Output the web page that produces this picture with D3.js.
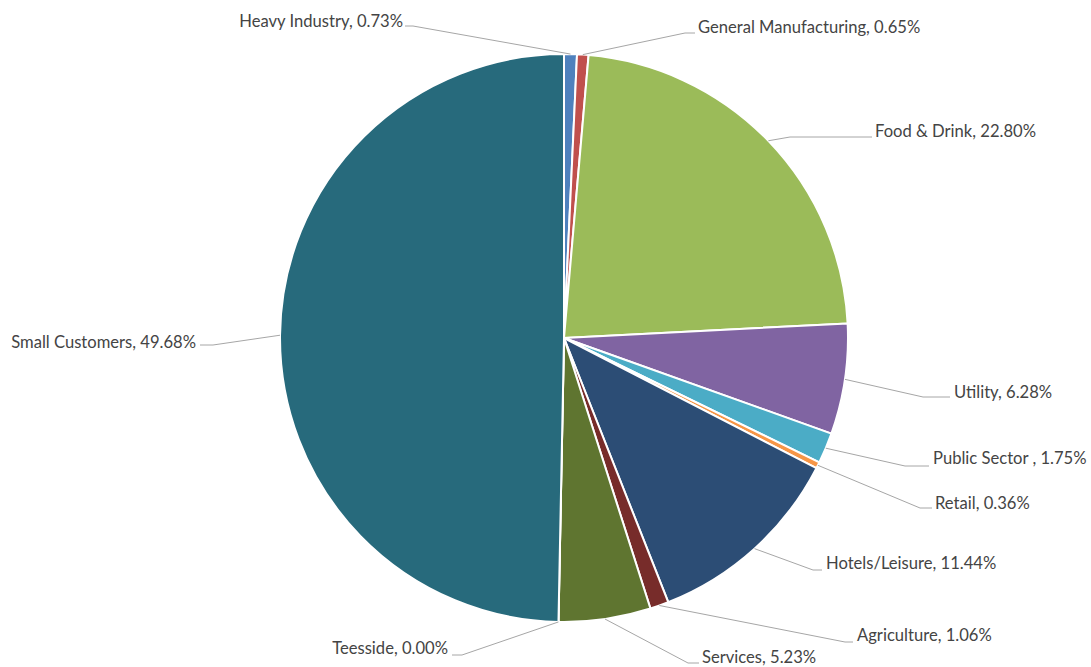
<!DOCTYPE html>
<html>
<head>
<meta charset="utf-8">
<script src="https://cdn.jsdelivr.net/npm/d3@7"></script>
<style>
  html, body { margin: 0; padding: 0; background: #ffffff; }
  svg { display: block; }
  .lbl { font-family: Lato, "Open Sans", sans-serif; font-size: 16.6px; fill: #444444; }
</style>
</head>
<body>
<svg id="chart" width="1091" height="667"></svg>
<script>
// Sector shares of consumption (%), clockwise from 12 o'clock
const categories = [
  "Heavy Industry", "General Manufacturing", "Food & Drink", "Utility",
  "Public Sector ", "Retail", "Hotels/Leisure", "Agriculture",
  "Services", "Teesside", "Small Customers"
];
const shares = [0.73, 0.65, 22.80, 6.28, 1.75, 0.36, 11.44, 1.06, 5.23, 0.00, 49.68];
const colors = [
  "#4F81BD", "#C0504D", "#9BBB59", "#8064A2", "#4BACC6", "#F79646",
  "#2C4D75", "#772C2A", "#5F7530", "#4D3B62", "#276A7C"
];

// Label placement: text anchor point, leader elbow and leader end
const labelLayout = [
  { tx: 403, ty: 21,  anchor: "end",   ex: 413, ey: 26,  lx: 405 },
  { tx: 698, ty: 27,  anchor: "start", ex: 685, ey: 33,  lx: 695 },
  { tx: 875, ty: 131, anchor: "start", ex: 790, ey: 137, lx: 872 },
  { tx: 954, ty: 392, anchor: "start", ex: 923, ey: 397, lx: 950 },
  { tx: 933, ty: 458, anchor: "start", ex: 905, ey: 466, lx: 929 },
  { tx: 935, ty: 503, anchor: "start", ex: 920, ey: 508, lx: 932 },
  { tx: 826, ty: 563, anchor: "start", ex: 813, ey: 570, lx: 822 },
  { tx: 857, ty: 635, anchor: "start", ex: 845, ey: 642, lx: 853 },
  { tx: 702, ty: 657, anchor: "start", ex: 688, ey: 663, lx: 699 },
  { tx: 448, ty: 648, anchor: "end",   ex: 462, ey: 655, lx: 452 },
  { tx: 196, ty: 342, anchor: "end",   ex: 213, ey: 345, lx: 200 }
];

const cx = 564, cy = 338, radius = 284;

const data = categories.map((c, i) => ({ name: c, value: shares[i], color: colors[i], layout: labelLayout[i] }));

const svg = d3.select("#chart");
const g = svg.append("g").attr("transform", `translate(${cx},${cy})`);

const pie = d3.pie().sort(null).value(d => d.value).startAngle(0).endAngle(2 * Math.PI);
const arc = d3.arc().innerRadius(0).outerRadius(radius);
const arcs = pie(data);

g.selectAll("path.slice")
  .data(arcs)
  .join("path")
  .attr("class", "slice")
  .attr("d", arc)
  .attr("fill", d => d.data.color)
  .attr("stroke", "#ffffff")
  .attr("stroke-width", 2)
  .attr("stroke-linejoin", "round");

// Leader lines from each slice's outer edge midpoint to its label
const leaders = svg.append("g");
arcs.forEach(d => {
  const mid = (d.startAngle + d.endAngle) / 2;
  const sx = cx + radius * Math.sin(mid);
  const sy = cy - radius * Math.cos(mid);
  const L = d.data.layout;
  leaders.append("polyline")
    .attr("points", `${sx},${sy} ${L.ex},${L.ey} ${L.lx},${L.ey}`)
    .attr("fill", "none")
    .attr("stroke", "#a6a6a6")
    .attr("stroke-width", 1);
});

const fmt = d3.format(".2f");
svg.append("g").selectAll("text")
  .data(arcs)
  .join("text")
  .attr("class", "lbl")
  .attr("x", d => d.data.layout.tx)
  .attr("y", d => d.data.layout.ty)
  .attr("dy", "0.35em")
  .attr("text-anchor", d => d.data.layout.anchor)
  .text(d => `${d.data.name}, ${fmt(d.data.value)}%`);
</script>
</body>
</html>
